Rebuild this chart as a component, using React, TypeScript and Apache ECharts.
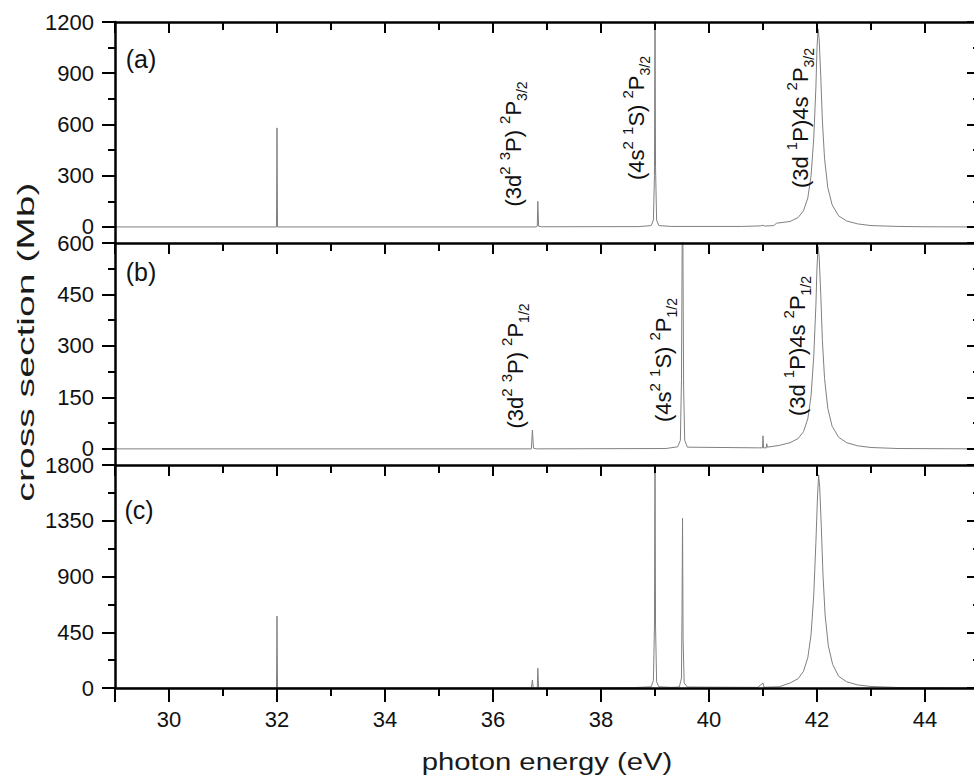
import React, { useEffect, useRef } from "react";
import * as echarts from "echarts";

const FONT = "'Liberation Sans', Arial, Helvetica, sans-serif";

const xRange = [29, 45];
const xMajorStep = 2;
const xMinorStep = 1;

const yRangeA = [-94, 1200];
const yStepA = [300, 150];

const yRangeB = [-47, 600];
const yStepB = [150, 75];

const yRangeC = [0, 1800];
const yStepC = [450, 225];

// (a) 2P3/2 spectrum: [photon energy eV, cross section Mb]
const spectrumA = [
  [29, 0], [31.99, 0], [32.0, 580], [32.01, 0], [36.8, 0], [36.82, 4], [36.83, 150], [36.845, 4], [36.9, 1],
  [38.7, 2], [38.93, 8], [38.97, 40], [38.99, 300], [39.0, 1400], [39.01, 350], [39.03, 40], [39.07, 8], [39.3, 3],
  [40.6, 3], [40.95, 6], [41.0, 10], [41.03, 5], [41.2, 8], [41.25, 22], [41.5, 32], [41.65, 55], [41.75, 95],
  [41.83, 170], [41.89, 300], [41.94, 520], [41.98, 820], [42.0, 1050], [42.02, 1160], [42.04, 1100], [42.07, 880],
  [42.1, 620], [42.14, 400], [42.2, 230], [42.28, 130], [42.4, 65], [42.55, 35], [42.75, 18], [43.0, 8], [43.5, 3],
  [44, 1], [45, 0],
];

// (b) 2P1/2 spectrum
const spectrumB = [
  [29, 0], [36.71, 0], [36.73, 55], [36.75, 2], [36.8, 0], [39.2, 1], [39.42, 6], [39.47, 25], [39.49, 200],
  [39.51, 800], [39.53, 180], [39.55, 25], [39.6, 5], [40.9, 3], [40.99, 3], [41.0, 38], [41.01, 3], [41.06, 3],
  [41.07, 15], [41.08, 5], [41.3, 10], [41.5, 18], [41.65, 30], [41.75, 50], [41.83, 88], [41.89, 155], [41.94, 270],
  [41.98, 420], [42.0, 530], [42.02, 590], [42.04, 560], [42.07, 450], [42.1, 315], [42.14, 205], [42.2, 118],
  [42.28, 66], [42.4, 34], [42.55, 18], [42.75, 9], [43.0, 4], [43.5, 1], [45, 0],
];

// (c) total spectrum
const spectrumC = [
  [29, 0], [31.99, 0], [32.0, 580], [32.01, 0], [36.71, 0], [36.73, 65], [36.745, 0], [36.82, 0], [36.83, 160],
  [36.845, 0], [38.6, 3], [38.93, 10], [38.97, 60], [38.99, 500], [39.0, 2100], [39.01, 500], [39.03, 50],
  [39.07, 10], [39.3, 5], [39.45, 8], [39.49, 80], [39.5, 600], [39.51, 1370], [39.52, 400], [39.54, 40], [39.6, 8],
  [40.9, 5], [41.0, 40], [41.02, 6], [41.3, 10], [41.5, 40], [41.65, 75], [41.75, 135], [41.83, 245], [41.89, 430],
  [41.94, 750], [41.98, 1180], [42.01, 1550], [42.03, 1720], [42.05, 1620], [42.08, 1300], [42.11, 920],
  [42.15, 590], [42.21, 340], [42.29, 190], [42.4, 95], [42.55, 50], [42.75, 25], [43.0, 12], [43.5, 4], [45, 0],
];

const panelLabels = ["(a)", "(b)", "(c)"];
const yAxisTitle = "cross section (Mb)";
const xAxisTitle = "photon energy (eV)";

const annotationsA = [
  "{m|(3d}{p|2}{s| }{p|3}{m|P) }{p|2}{m|P}{b|3/2}",
  "{m|(4s}{p|2}{s| }{p|1}{m|S) }{p|2}{m|P}{b|3/2}",
  "{m|(3d }{p|1}{m|P)4s }{p|2}{m|P}{b|3/2}",
];
const annotationsB = [
  "{m|(3d}{p|2}{s| }{p|3}{m|P) }{p|2}{m|P}{b|1/2}",
  "{m|(4s}{p|2}{s| }{p|1}{m|S) }{p|2}{m|P}{b|1/2}",
  "{m|(3d }{p|1}{m|P)4s }{p|2}{m|P}{b|1/2}",
];

const GRIDS = [
  { top: 22, height: 221 },
  { top: 243, height: 222 },
  { top: 465, height: 223 },
];

const black = (w: number) => ({ color: "#000", width: w });

function isMultiple(v: number, step: number) {
  const r = Math.abs(v / step - Math.round(v / step));
  return r < 1e-6;
}

function buildYAxes(gridIndex: number, range: number[], steps: number[]) {
  const [major, minor] = steps;
  const base = (step: number) => ({
    type: "value", gridIndex, min: range[0], max: range[1], minInterval: step, maxInterval: step,
    splitLine: { show: false }, z: 10,
  });
  return [
    {
      ...base(major), position: "left",
      axisLine: { show: true, onZero: false, lineStyle: black(2.5) },
      axisTick: { show: true, inside: false, length: 13, lineStyle: black(2) },
      axisLabel: {
        show: true, margin: 21, fontSize: 22, color: "#111", fontFamily: FONT,
        showMinLabel: true, showMaxLabel: true, hideOverlap: false,
        formatter: (v: number) => (isMultiple(v, major) ? String(Math.round(v)) : ""),
      },
    },
    {
      ...base(minor), position: "left",
      axisLine: { show: false, onZero: false },
      axisTick: { show: true, inside: false, length: 7, lineStyle: black(2) },
      axisLabel: { show: false },
    },
    {
      ...base(major), position: "right",
      axisLine: { show: true, onZero: false, lineStyle: black(2.5) },
      axisTick: { show: true, inside: true, length: 12, lineStyle: black(2) },
      axisLabel: { show: false },
    },
    {
      ...base(minor), position: "right",
      axisLine: { show: false, onZero: false },
      axisTick: { show: true, inside: true, length: 6, lineStyle: black(2) },
      axisLabel: { show: false },
    },
  ];
}

function buildXAxes(gridIndex: number, withBottom: boolean) {
  const base = (step: number) => ({
    type: "value", gridIndex, min: xRange[0], max: xRange[1], minInterval: step, maxInterval: step,
    splitLine: { show: false }, z: 10,
  });
  const axes: any[] = [
    {
      ...base(xMajorStep), position: "top",
      axisLine: { show: true, onZero: false, lineStyle: black(2.5) },
      axisTick: { show: true, inside: true, length: 11, lineStyle: black(2) },
      axisLabel: { show: false },
    },
    {
      ...base(xMinorStep), position: "top",
      axisLine: { show: false, onZero: false },
      axisTick: { show: true, inside: true, length: 8, lineStyle: black(2) },
      axisLabel: { show: false },
    },
  ];
  if (withBottom) {
    axes.push(
      {
        ...base(xMajorStep), position: "bottom",
        axisLine: { show: true, onZero: false, lineStyle: black(2.5) },
        axisTick: { show: true, inside: false, length: 14, lineStyle: black(2) },
        axisLabel: {
          show: true, margin: 20, fontSize: 22, color: "#111", fontFamily: FONT,
          showMinLabel: true, showMaxLabel: true, hideOverlap: false,
          formatter: (v: number) => (isMultiple(v, xMajorStep) ? String(Math.round(v)) : ""),
        },
      },
      {
        ...base(xMinorStep), position: "bottom",
        axisLine: { show: false, onZero: false },
        axisTick: { show: true, inside: false, length: 8, lineStyle: black(2) },
        axisLabel: { show: false },
      }
    );
  }
  return axes;
}

const richStyles = {
  m: { fontSize: 22, fontFamily: FONT, lineHeight: 32, verticalAlign: "middle", fill: "#111" },
  s: { fontSize: 22, fontFamily: FONT, lineHeight: 32, verticalAlign: "middle", fill: "#111" },
  p: { fontSize: 15, fontFamily: FONT, lineHeight: 15, verticalAlign: "top", fill: "#111" },
  b: { fontSize: 14, fontFamily: FONT, lineHeight: 14, verticalAlign: "bottom", fill: "#111" },
};

function annotation(text: string, x: number, y: number) {
  return {
    type: "text", x, y, rotation: Math.PI / 2,
    style: { text, rich: richStyles, align: "center", verticalAlign: "middle", fill: "#111", font: `22px ${FONT}` },
    z: 10,
  };
}

export default function App() {
  const ref = useRef<HTMLDivElement>(null);
  useEffect(() => {
    document.body.style.margin = "0";
    if (!ref.current) return;
    const chart = echarts.init(ref.current, undefined, { renderer: "svg" });
    const seriesStyle = { color: "#808080", width: 1 };
    const option: any = {
      animation: false,
      backgroundColor: "#fff",
      grid: GRIDS.map((g) => ({
        left: 115, width: 864, top: g.top, height: g.height, containLabel: false, outerBoundsMode: "none",
      })),
      xAxis: [...buildXAxes(0, false), ...buildXAxes(1, false), ...buildXAxes(2, true)],
      yAxis: [
        ...buildYAxes(0, yRangeA, yStepA),
        ...buildYAxes(1, yRangeB, yStepB),
        ...buildYAxes(2, yRangeC, yStepC),
      ],
      series: [
        { type: "line", xAxisIndex: 0, yAxisIndex: 0, data: spectrumA, showSymbol: false, symbol: "none", lineStyle: seriesStyle, clip: true, z: 1 },
        { type: "line", xAxisIndex: 2, yAxisIndex: 4, data: spectrumB, showSymbol: false, symbol: "none", lineStyle: seriesStyle, clip: true, z: 1 },
        { type: "line", xAxisIndex: 4, yAxisIndex: 8, data: spectrumC, showSymbol: false, symbol: "none", lineStyle: seriesStyle, clip: true, z: 1 },
      ],
      graphic: [
        { type: "text", x: 141, y: 59, style: { text: panelLabels[0], font: `25px ${FONT}`, fill: "#111", align: "center", verticalAlign: "middle" } },
        { type: "text", x: 141, y: 272, style: { text: panelLabels[1], font: `25px ${FONT}`, fill: "#111", align: "center", verticalAlign: "middle" } },
        { type: "text", x: 139, y: 510, style: { text: panelLabels[2], font: `25px ${FONT}`, fill: "#111", align: "center", verticalAlign: "middle" } },
        annotation(annotationsA[0], 513, 144),
        annotation(annotationsA[1], 636, 118),
        annotation(annotationsA[2], 800, 118),
        annotation(annotationsB[0], 515, 366),
        annotation(annotationsB[1], 663, 360),
        annotation(annotationsB[2], 797, 346),
        {
          type: "text", x: 26, y: 342, rotation: Math.PI / 2, scaleX: 1.7,
          style: { text: yAxisTitle, font: `23px ${FONT}`, fill: "#1a1a1a", align: "center", verticalAlign: "middle" },
        },
        {
          type: "text", x: 547, y: 762, scaleX: 1.22,
          style: { text: xAxisTitle, font: `24px ${FONT}`, fill: "#1a1a1a", align: "center", verticalAlign: "middle" },
        },
      ],
    };
    chart.setOption(option);
    return () => chart.dispose();
  }, []);
  return <div ref={ref} style={{ width: 974, height: 780 }} />;
}
